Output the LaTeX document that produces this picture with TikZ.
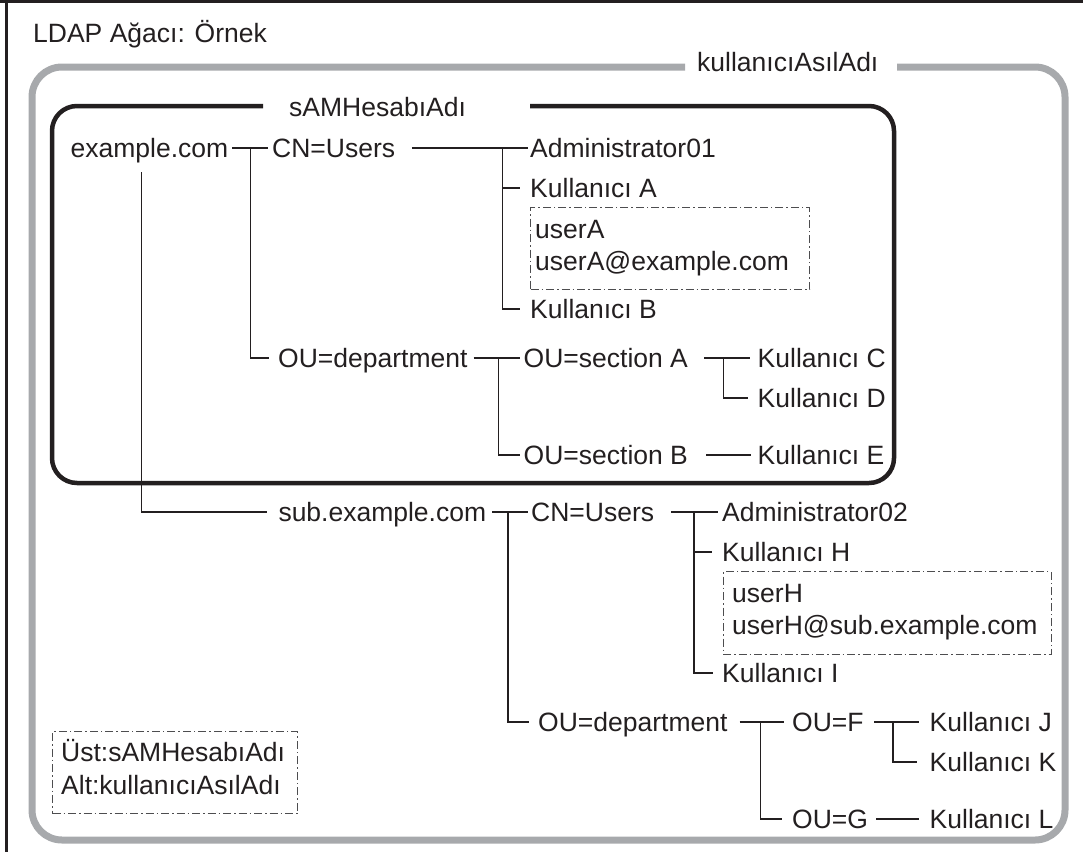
\documentclass[tikz,border=0pt]{standalone}
\usepackage{fontspec}
\setmainfont{Liberation Sans}
\usetikzlibrary{calc}
\definecolor{Ink}{HTML}{231F20}
\definecolor{Frame}{HTML}{A7A9AC}
\definecolor{Note}{HTML}{4D4D4F}
\newcommand\treefont{\fontsize{26.5}{32}\selectfont}

\begin{document}
\begin{tikzpicture}[x=1pt,y=-1pt,
    item/.style={anchor=west,inner sep=0pt,text height=19pt,text depth=0pt,text=Ink,font=\treefont},
    link/.style={draw=Ink,line width=1.2pt},
    note/.style={draw=Note,line width=1.1pt,dash pattern=on 8pt off 3pt on 1.5pt off 3pt,anchor=north west,inner sep=0pt}]
  \useasboundingbox (0,0) rectangle (1083,852);
  % page edge and the two scopes
  \draw[Ink,line width=3pt] (0,1.5) -- (1083,1.5) (6.5,0) -- (6.5,852);
  \draw[Frame,line width=7pt,rounded corners=30pt] (685,67) -- (32,67) -- (32,840) -- (1065,840) -- (1065,67) -- (897,67);
  \draw[Ink,line width=4.5pt,rounded corners=25pt] (263,106) -- (52,106) -- (52,483) -- (894,483) -- (894,106) -- (530,106);
  % texts
  \foreach \id/\x/\y/\txt in {title/33/33/LDAP Ağacı: Örnek, alt/697/62/kullanıcıAsılAdı, ust/289/107/sAMHesabıAdı,
      ex/70.5/148/example.com, cn1/272/148/CN=Users, adm1/530/148/Administrator01, ka/530/188/Kullanıcı A,
      ua/535/229/userA, uam/535/261/userA@example.com, kb/530/309/Kullanıcı B,
      dep1/278/358/OU=department, seca/523.5/358/OU=section A, kc/757.5/358/Kullanıcı C, kd/757.5/398/Kullanıcı D,
      secb/523.5/455/OU=section B, ke/757.5/455/Kullanıcı E,
      sub/278.3/512/sub.example.com, cn2/531/512/CN=Users, adm2/722/512/Administrator02, kh/722/552/Kullanıcı H,
      uh/732/593/userH, uhm/732/625/userH@sub.example.com, ki/722/673/Kullanıcı I,
      dep2/538/722/OU=department, ouf/792/722/OU=F, kj/929.5/722/Kullanıcı J, kk/929.5/762/Kullanıcı K,
      oug/792/819/OU=G, kl/929.5/819/Kullanıcı L,
      k1/61/751.5/Üst:sAMHesabıAdı, k2/61/784.5/Alt:kullanıcıAsılAdı}
    \node[item] (\id) at (\x,\y) {\txt};
  \node[note,minimum width=279pt,minimum height=82pt] (boxa) at (530,207) {};
  \node[note,minimum width=328pt,minimum height=83pt] (boxh) at (722.5,571) {};
  \node[note,minimum width=245pt,minimum height=82pt] (key) at (52,731) {};
  % straight links
  \foreach \a/\b/\s/\e in {ex/cn1/4/4, cn1/adm1/16.5/2, dep1/seca/6/3.5, seca/kc/16/8, secb/ke/18/6.5,
      sub/cn2/6/3, cn2/adm2/17/4, dep2/ouf/12/8, ouf/kj/10.5/10.5, oug/kl/8/10.5}
    \draw[link,shorten <=\s,shorten >=\e] (\a) -- (\b);
  % branches
  \coordinate (j0) at (141.5,172);
  \coordinate (j1) at ($(ex.east)!.5!(cn1.west)$);
  \coordinate (j2) at (502.5,148);
  \coordinate (j3) at (498.3,358);
  \coordinate (j4) at (723.5,358);
  \coordinate (j5) at (508,512);
  \coordinate (j6) at (694,512);
  \coordinate (j7) at (760.6,722);
  \coordinate (j8) at (893,722);
  \foreach \j/\n/\e in {j0/sub/11, j1/dep1/9, j2/kb/10, j3/secb/3.5, j4/kd/9.5, j5/dep2/9, j6/ki/9, j7/oug/10, j8/kk/12.5}
    \draw[link,shorten >=\e] (\j) |- (\n.west);
  \foreach \j/\n in {j2/ka, j6/kh}
    \draw[link,shorten >=10] (\j |- \n.west) -- (\n.west);
\end{tikzpicture}
\end{document}
